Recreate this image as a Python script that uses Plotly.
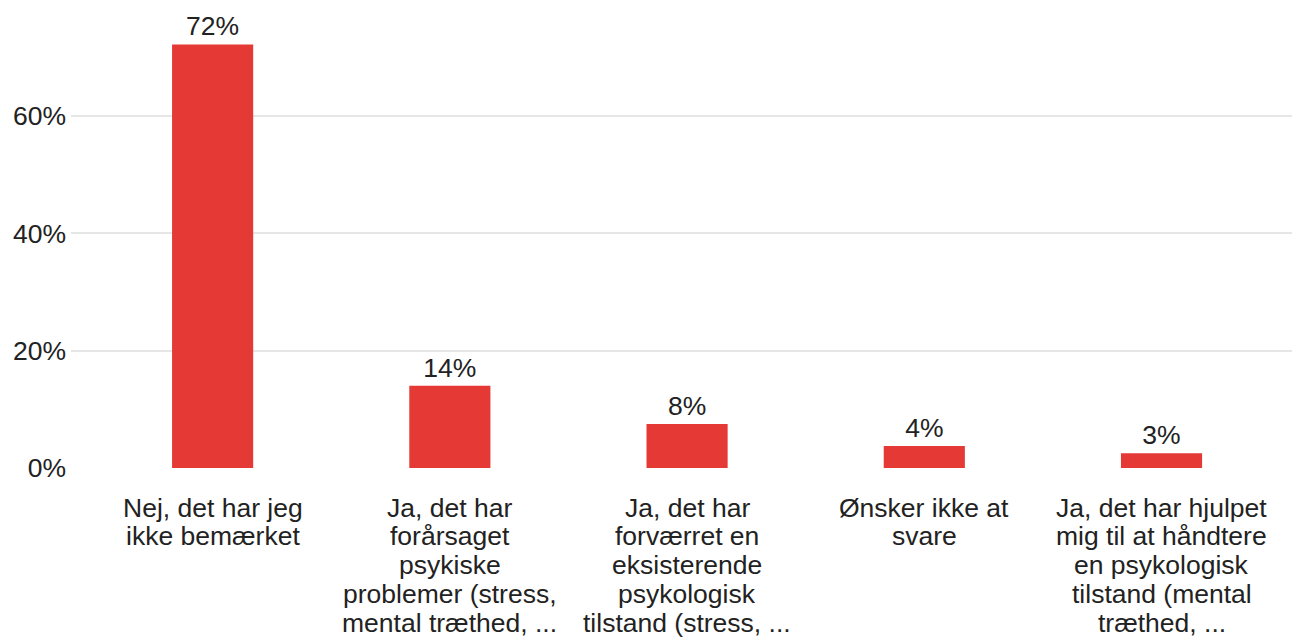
import plotly.graph_objects as go

categories = [
    "Nej, det har jeg<br>ikke bemærket",
    "Ja, det har<br>forårsaget<br>psykiske<br>problemer (stress,<br>mental træthed, ...",
    "Ja, det har<br>forværret en<br>eksisterende<br>psykologisk<br>tilstand (stress, ...",
    "Ønsker ikke at<br>svare",
    "Ja, det har hjulpet<br>mig til at håndtere<br>en psykologisk<br>tilstand (mental<br>træthed, ...",
]
values = [72.2, 14.0, 7.5, 3.75, 2.5]
labels = ["72%", "14%", "8%", "4%", "3%"]
y_ticks = [0, 20, 40, 60]
y_tick_text = ["0%", "20%", "40%", "60%"]

W, H = 1292, 637
top, bottom, left, right = 10, 169, 71, 0
px_per_unit = (468 - 116) / 60.0
y_max = (H - bottom - top) / px_per_unit
FS = 26.5
TXT = "#222222"

fig = go.Figure(go.Bar(
    x=list(range(len(categories))),
    y=values,
    text=labels,
    textposition="outside",
    textfont=dict(size=FS, color=TXT),
    marker=dict(color="#e53935", line=dict(width=0)),
    cliponaxis=False,
    width=0.342,
    hoverinfo="skip",
))

# category labels, one annotation per line (tight line spacing like the reference)
annotations = []
line_gap = 28.8
first_center = 39.5
for i, cat in enumerate(categories):
    for j, line in enumerate(cat.split("<br>")):
        annotations.append(dict(
            x=i, xref="x", y=0, yref="paper",
            text=line, showarrow=False,
            xanchor="center", yanchor="middle",
            yshift=-(first_center + j * line_gap),
            font=dict(size=FS, color=TXT),
        ))

fig.update_layout(
    width=W, height=H,
    margin=dict(l=left, r=right, t=top, b=bottom, pad=0, autoexpand=False),
    paper_bgcolor="white", plot_bgcolor="white",
    font=dict(family="Liberation Sans, Arial, sans-serif", size=FS, color=TXT),
    showlegend=False,
    annotations=annotations,
)
fig.update_xaxes(
    tickmode="array", tickvals=list(range(len(categories))),
    showticklabels=False, automargin=False,
    range=[-0.597, 4.55], showgrid=False, zeroline=False, showline=False,
    ticks="",
)
fig.update_yaxes(
    range=[0, y_max], tickmode="array", tickvals=y_ticks, ticktext=y_tick_text,
    automargin=False,
    showgrid=True, gridcolor="#e6e6e6", gridwidth=2, zeroline=False, showline=False,
    ticks="", ticklabelstandoff=4,
    tickfont=dict(size=FS, color=TXT),
)

fig.write_html(
    "out.html",
    config={"displayModeBar": False},
    post_script="document.body.style.margin='0';document.body.style.overflow='hidden';",
)
